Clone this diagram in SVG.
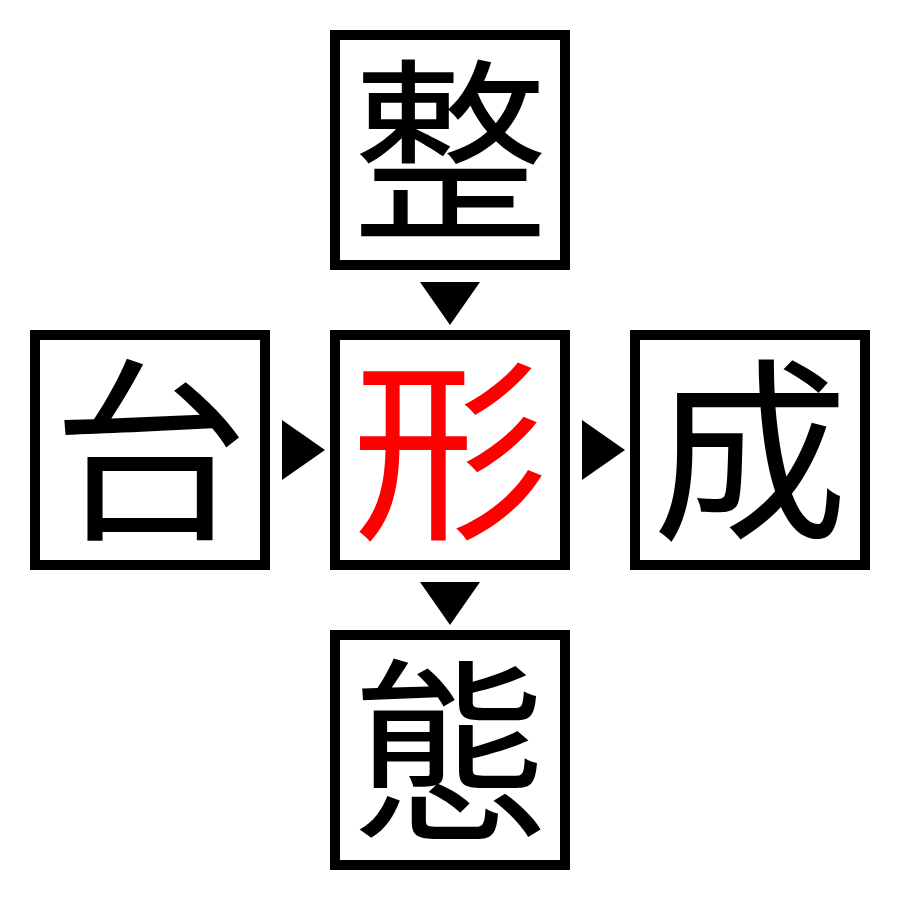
<svg xmlns="http://www.w3.org/2000/svg" width="900" height="900" viewBox="0 0 900 900">
<style>
.box{fill:#fff;stroke:#000;stroke-width:10}
.ch{font-family:"Noto Sans CJK JP","Noto Sans CJK SC",serif;font-size:196px;text-anchor:middle;fill:#000}
.hl{fill:#ff0000}
.arr{fill:#000}
</style>
<rect width="900" height="900" fill="#fff"/>
<g id="n-top"><rect class="box" x="335" y="35" width="230" height="230"/><text class="ch" x="450" y="224">整</text></g>
<g id="n-left"><rect class="box" x="35" y="335" width="230" height="230"/><text class="ch" x="150" y="524">台</text></g>
<g id="n-center"><rect class="box" x="335" y="335" width="230" height="230"/><text class="ch hl" x="450" y="524">形</text></g>
<g id="n-right"><rect class="box" x="635" y="335" width="230" height="230"/><text class="ch" x="750" y="524">成</text></g>
<g id="n-bottom"><rect class="box" x="335" y="635" width="230" height="230"/><text class="ch" x="450" y="824">態</text></g>
<g id="connectors">
<polygon class="arr" points="420,282 480,282 450,325"/>
<polygon class="arr" points="282,420 325,450 282,480"/>
<polygon class="arr" points="582,420 625,450 582,480"/>
<polygon class="arr" points="420,582 480,582 450,625"/>
</g>
</svg>
